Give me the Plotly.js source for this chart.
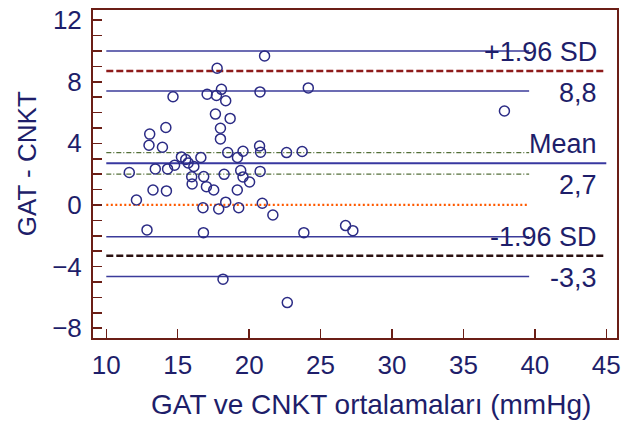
<!DOCTYPE html>
<html>
<head>
<meta charset="utf-8">
<script src="https://cdn.plot.ly/plotly-3.0.1.min.js"></script>
<style>html,body{margin:0;padding:0;background:#fff;}#chart{width:638px;height:421px;}</style>
</head>
<body>
<div id="chart"></div>
<script>
// Averages (x) and differences (y)
const meanValues = [21.08,17.76,14.67,17.06,17.71,18.06,18.36,20.76,24.14,17.64,18.67,14.17,13.04,17.99,17.99,12.99,13.93,18.50,15.26,15.56,16.62,15.73,14.78,16.13,13.43,14.29,11.61,15.98,16.82,18.25,19.18,19.57,20.73,20.80,22.62,23.71,19.41,19.57,20.77,20.03,16.01,17.01,17.52,13.27,14.21,12.11,19.17,16.77,17.87,18.36,19.27,20.92,21.66,12.85,16.80,23.83,26.75,27.26,18.17,22.67,37.87];
const diffValues = [9.68,8.88,7.03,7.19,7.11,7.51,6.77,7.34,7.60,5.90,5.62,5.03,4.60,4.98,4.29,3.88,3.75,3.40,3.12,2.95,3.08,2.73,2.58,2.50,2.34,2.34,2.11,1.83,1.84,1.99,3.08,3.49,3.83,3.43,3.40,3.47,2.24,1.82,2.18,1.49,1.36,1.19,0.97,0.97,0.91,0.32,0.97,-0.18,-0.26,0.18,-0.18,0.11,-0.65,-1.62,-1.80,-1.80,-1.34,-1.67,-4.82,-6.34,6.10];

// Reference lines
const meanDiff = 2.7;
const upperLoA = 8.7;
const lowerLoA = -3.3;
const upperLoACI = [7.4, 10.0];
const meanCI = [2.0, 3.4];
const lowerLoACI = [-4.65, -2.06];
const zeroLine = 0;
const lineStartX = 10;
const ciLineEndX = 39.6;
const fullLineEndX = 45;

// Labels
const upperLabels = ["+1.96 SD", "8,8"];
const meanLabels = ["Mean", "2,7"];
const lowerLabels = ["-1.96 SD", "-3,3"];
const xTitle = "GAT ve CNKT ortalamaları (mmHg)";
const yTitle = "GAT - CNKT";

const navy = "#1e1e6a";
const frame = "#6b1e16";
const fontFam = "Liberation Sans, Arial, sans-serif";

function hline(y, x1, color, width, dash) {
  return {x:[lineStartX, x1], y:[y, y], mode:"lines", type:"scatter",
    line:{color:color, width:width, dash:dash}, hoverinfo:"skip", showlegend:false};
}

const traces = [
  hline(upperLoACI[1], ciLineEndX, "#3b3b9a", 1.5, "solid"),
  hline(upperLoA, fullLineEndX, "#8e1b1b", 2.5, "7px,3px"),
  hline(upperLoACI[0], ciLineEndX, "#3b3b9a", 1.5, "solid"),
  hline(meanCI[1], ciLineEndX, "#55703a", 1.2, "5px,2px,1px,2px"),
  hline(meanDiff, fullLineEndX, "#3838a0", 2, "solid"),
  hline(meanCI[0], ciLineEndX, "#55703a", 1.2, "5px,2px,1px,2px"),
  hline(zeroLine, ciLineEndX, "#ff5a00", 2.2, "2px,2.5px"),
  hline(lowerLoACI[1], ciLineEndX, "#3b3b9a", 1.5, "solid"),
  hline(lowerLoA, fullLineEndX, "#2a1010", 2.5, "7px,3px"),
  hline(lowerLoACI[0], ciLineEndX, "#3b3b9a", 1.5, "solid"),
  {x:meanValues, y:diffValues, mode:"markers", type:"scatter", showlegend:false,
   marker:{symbol:"circle-open", size:10, color:"#2b2b85", line:{width:1.5, color:"#2b2b85"}}}
];

const annFont = {family:fontFam, size:27, color:navy};
function label(text, y, shift) {
  return {x:44.5, y:y, xref:"x", yref:"y", text:text, showarrow:false,
    xanchor:"right", yanchor:"middle", yshift:shift, font:annFont};
}

const layout = {
  width:638, height:421,
  margin:{l:93, r:21, t:10, b:83},
  paper_bgcolor:"#fff", plot_bgcolor:"#fff",
  font:{family:fontFam, color:navy},
  xaxis:{range:[9.07, 45.75], dtick:5, tick0:0, showgrid:false, zeroline:false,
    showline:true, mirror:true, linecolor:frame, linewidth:2,
    ticks:"inside", ticklen:9, tickwidth:1.5, tickcolor:frame,
    ticklabelstandoff:3,
    tickfont:{family:fontFam, size:26, color:navy}},
  yaxis:{range:[-8.64, 12.66], dtick:4, tick0:0, showgrid:false, zeroline:false,
    showline:true, mirror:true, linecolor:frame, linewidth:2,
    ticks:"inside", ticklen:9, tickwidth:1.5, tickcolor:frame,
    ticklabelstandoff:4,
    minor:{dtick:1, ticks:"inside", ticklen:9, tickwidth:1.5, tickcolor:frame, showgrid:false},
    tickfont:{family:fontFam, size:26, color:navy}},
  annotations:[
    label(upperLabels[0], upperLoA, 19),
    label(upperLabels[1], upperLoA, -22),
    label(meanLabels[0], meanDiff, 19),
    label(meanLabels[1], meanDiff, -22),
    label(lowerLabels[0], lowerLoA, 19),
    label(lowerLabels[1], lowerLoA, -22),
    {text:xTitle, xref:"paper", yref:"paper", x:0.53, y:-0.204, xanchor:"center", yanchor:"middle",
     showarrow:false, font:{family:fontFam, size:28, color:navy}},
    {text:yTitle, xref:"paper", yref:"paper", x:0, xshift:-66, y:0.53, xanchor:"center", yanchor:"middle",
     textangle:-90, showarrow:false, font:{family:fontFam, size:26, color:navy}}
  ]
};

Plotly.newPlot("chart", traces, layout, {displayModeBar:false, staticPlot:true});
</script>
</body>
</html>
